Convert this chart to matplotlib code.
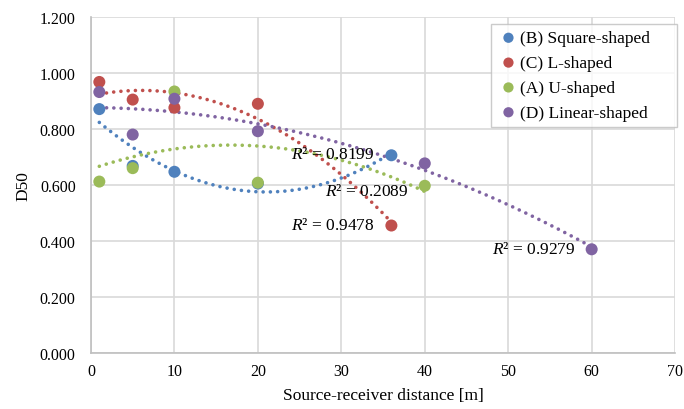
import numpy as np
import matplotlib.pyplot as plt
from matplotlib.ticker import FormatStrFormatter

plt.rcParams['font.family'] = ['Liberation Serif', 'DejaVu Serif']
plt.rcParams['mathtext.fontset'] = 'custom'
plt.rcParams['mathtext.it'] = 'Liberation Serif:italic'
plt.rcParams['mathtext.rm'] = 'Liberation Serif'

# data
names = ['(B) Square-shaped', '(C) L-shaped', '(A) U-shaped', '(D) Linear-shaped']
colors = ['#4F81BD', '#C0504D', '#9BBB59', '#8064A2']

x_b = [1, 5, 10, 20, 36]
y_b = [0.871, 0.668, 0.647, 0.605, 0.706]

x_c = [1, 5, 10, 20, 36]
y_c = [0.968, 0.905, 0.876, 0.890, 0.455]

x_a = [1, 5, 10, 20, 40]
y_a = [0.612, 0.660, 0.934, 0.608, 0.597]

x_d = [1, 5, 10, 20, 40, 60]
y_d = [0.932, 0.780, 0.908, 0.792, 0.677, 0.370]

r2_labels = ['0.8199', '0.9478', '0.2089', '0.9279']
r2_pos = [(24.0, 0.711), (24.0, 0.457), (28.0, 0.579), (48.0, 0.371)]

series = [(x_b, y_b), (x_c, y_c), (x_a, y_a), (x_d, y_d)]

fig, ax = plt.subplots(figsize=(6.84, 4.10), dpi=100)
fig.subplots_adjust(left=0.133, right=0.987, top=0.956, bottom=0.137)

# points first so they sit in the legend
for (xs, ys), name, c in zip(series, names, colors):
    ax.scatter(xs, ys, s=75, color=c, label=name, zorder=3, edgecolors='none')

# 2nd-order polynomial trendlines, like excel
for (xs, ys), c in zip(series, colors):
    p = np.polyfit(xs, ys, 2)
    xx = np.linspace(min(xs), max(xs), 300)
    ax.plot(xx, np.polyval(p, xx), color=c, lw=2.6, ls=(0, (0.01, 2.0)),
            dash_capstyle='round', zorder=2)

for lab, (tx, ty) in zip(r2_labels, r2_pos):
    ax.text(tx, ty, '$R$² = ' + lab, fontsize=12.5, va='center', ha='left', zorder=4)

ax.set_xlim(0, 70)
ax.set_ylim(0, 1.2)
ax.set_xticks(np.arange(0, 71, 10))
ax.set_yticks(np.arange(0, 1.21, 0.2))
ax.yaxis.set_major_formatter(FormatStrFormatter('%.3f'))
ax.grid(True, color='#D9D9D9', lw=1.2)
ax.set_axisbelow(True)
ax.tick_params(length=0, labelsize=11.5)
ax.tick_params(axis='x', pad=7)
ax.tick_params(axis='y', pad=11)
for s in ['top', 'right']:
    ax.spines[s].set_visible(False)
for s in ['left', 'bottom']:
    ax.spines[s].set_color('#BFBFBF')
    ax.spines[s].set_linewidth(1.2)

ax.set_xlabel('Source-receiver distance [m]', fontsize=12.5, labelpad=6)
ax.set_ylabel('D50', fontsize=12.5, labelpad=6)

leg = ax.legend(loc='upper left', bbox_to_anchor=(0.685, 0.979, 0.318, 0), mode='expand',
                borderaxespad=0, fontsize=12.5, frameon=True, fancybox=False,
                edgecolor='#BFBFBF', handletextpad=0.0, borderpad=0.35,
                labelspacing=0.5, handlelength=1.3, markerscale=0.85)
leg.get_frame().set_linewidth(1.0)

fig.savefig('out.png', dpi=100)
